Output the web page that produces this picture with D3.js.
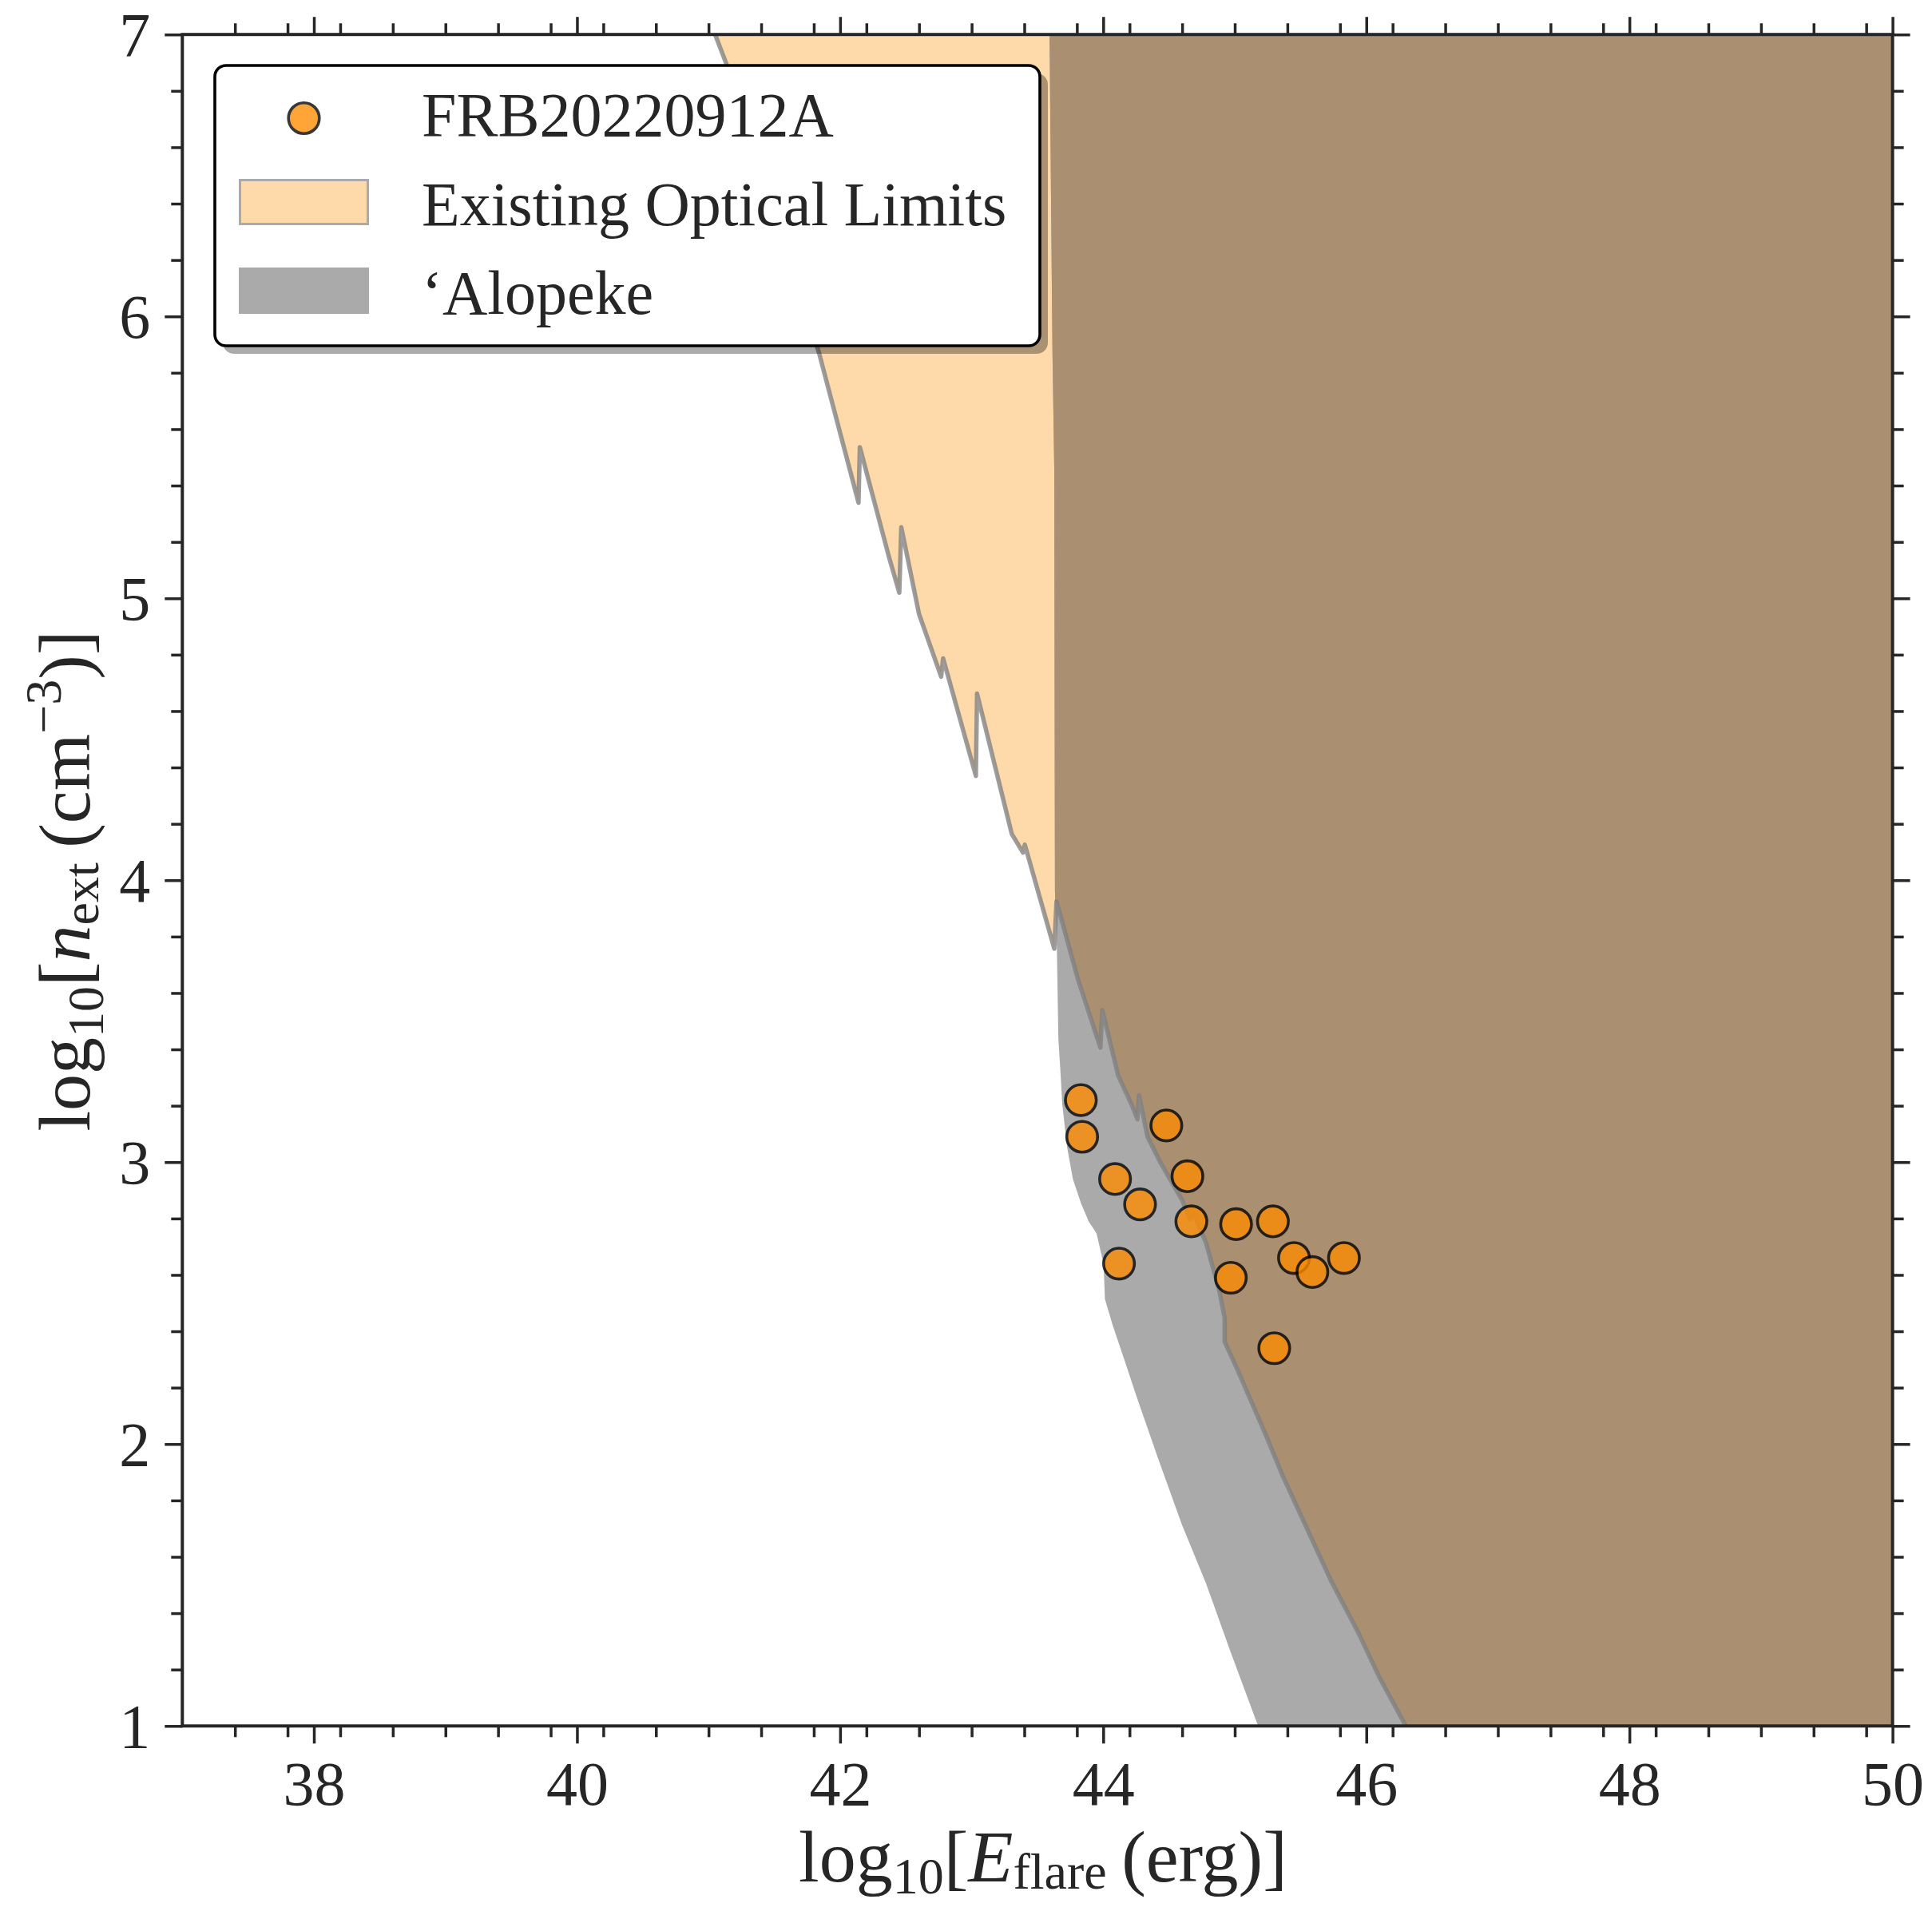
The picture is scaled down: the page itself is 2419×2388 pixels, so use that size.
<!DOCTYPE html>
<html>
<head>
<meta charset="utf-8">
<script src="https://cdn.jsdelivr.net/npm/d3@7"></script>
<style>
  html, body { margin: 0; padding: 0; background: #ffffff; }
  svg { display: block; }
  text { font-family: "Liberation Serif", "DejaVu Serif", serif; fill: #262626; }
</style>
</head>
<body>
<script>
// ---- data -------------------------------------------------------------
// Axis tick labels
const energyTicks = [38, 40, 42, 44, 46, 48, 50];
const densityTicks = [1, 2, 3, 4, 5, 6, 7];

// FRB20220912A bursts: log10 flare energy (erg) and log10 external density (cm^-3)
const frbLogE = [43.83, 43.84, 44.09, 44.28, 44.12, 44.48, 44.64, 44.67, 45.01, 45.29, 44.97, 45.45, 45.59, 45.83, 45.30];
const frbLogN = [3.22, 3.09, 2.94, 2.85, 2.64, 3.13, 2.95, 2.79, 2.78, 2.79, 2.59, 2.66, 2.61, 2.66, 2.34];

// Existing optical limits: excluded region lies to the right of this boundary
const opticalLogE = [41.05, 41.14, 41.84, 42.14, 42.15, 42.37, 42.45, 42.465, 42.60, 42.768, 42.783, 43.032, 43.041,
  43.305, 43.390, 43.404, 43.628, 43.645, 43.811, 43.979, 43.993, 44.114, 44.216, 44.260, 44.272, 44.337, 44.438,
  44.600, 44.661, 44.691, 44.782, 44.883, 44.923, 44.923, 45.025, 45.227, 45.369, 45.733, 45.936, 46.098, 46.300];
const opticalLogN = [7.0, 6.89, 5.87, 5.339, 5.536, 5.149, 5.020, 5.252, 4.944, 4.722, 4.787, 4.370, 4.662,
  4.164, 4.098, 4.126, 3.757, 3.925, 3.644, 3.406, 3.539, 3.307, 3.204, 3.152, 3.237, 3.090, 2.996,
  2.865, 2.797, 2.816, 2.713, 2.543, 2.448, 2.363, 2.259, 2.042, 1.882, 1.514, 1.334, 1.174, 1.0];

// 'Alopeke limits: excluded region lies to the right of this boundary
const alopekeLogE = [43.592, 43.614, 43.628, 43.633, 43.648, 43.659, 43.673, 43.689, 43.726, 43.770, 43.831, 43.891,
  43.932, 43.950, 44.003, 44.013, 44.073, 44.155, 44.256, 44.418, 44.600, 44.782, 44.964, 45.177];
const alopekeLogN = [7.0, 5.883, 5.453, 3.964, 3.751, 3.440, 3.336, 3.204, 3.052, 2.939, 2.854, 2.788,
  2.760, 2.746, 2.638, 2.514, 2.420, 2.307, 2.165, 1.948, 1.712, 1.505, 1.268, 1.0];

const legendLabels = ["FRB20220912A", "Existing Optical Limits", "\u2018Alopeke"];

// ---- layout -----------------------------------------------------------
const W = 2419, H = 2388;
const plot = { left: 228.3, right: 2369.6, top: 43.2, bottom: 2161.3 };
const xDomain = [37, 50], yDomain = [1, 7];

const colors = {
  axis: "#262626",
  optical: "#fed9aa",
  alopeke: "#aaaaaa",
  overlap: "#aa8f71",
  edge: "#808080",
  marker: "#ff8c00"
};

const x = d3.scaleLinear().domain(xDomain).range([plot.left, plot.right]);
const y = d3.scaleLinear().domain(yDomain).range([plot.bottom, plot.top]);

const svg = d3.select("body").append("svg")
  .attr("width", W).attr("height", H)
  .attr("viewBox", `0 0 ${W} ${H}`);

const defs = svg.append("defs");
defs.append("clipPath").attr("id", "plot-clip")
  .append("rect")
  .attr("x", plot.left).attr("y", plot.top)
  .attr("width", plot.right - plot.left).attr("height", plot.bottom - plot.top);

// Region to the right of a boundary curve, closed along the right edge of the axes
const regionPath = (es, ns) => {
  const pts = es.map((e, i) => [e, ns[i]]);
  pts.push([xDomain[1], yDomain[0]], [xDomain[1], yDomain[1]]);
  return d3.line().x(d => x(d[0])).y(d => y(d[1]))(pts) + "Z";
};
const boundaryLine = (es, ns) =>
  d3.line().x(d => x(d[0])).y(d => y(d[1]))(es.map((e, i) => [e, ns[i]]));

const opticalRegion = regionPath(opticalLogE, opticalLogN);
const alopekeRegion = regionPath(alopekeLogE, alopekeLogN);

defs.append("clipPath").attr("id", "optical-clip")
  .append("path").attr("d", opticalRegion);

const fills = svg.append("g").attr("clip-path", "url(#plot-clip)");
fills.append("path").attr("d", opticalRegion).attr("fill", colors.optical);
fills.append("path").attr("d", alopekeRegion).attr("fill", colors.alopeke);
// where both limits apply
fills.append("path").attr("d", alopekeRegion).attr("fill", colors.overlap)
  .attr("clip-path", "url(#optical-clip)");
fills.append("path").attr("d", boundaryLine(opticalLogE, opticalLogN))
  .attr("fill", "none").attr("stroke", colors.edge).attr("stroke-opacity", 0.78)
  .attr("stroke-width", 5.5).attr("stroke-linejoin", "round").attr("stroke-linecap", "round");

// ---- FRB points ---------------------------------------------------------
svg.append("g").selectAll("circle")
  .data(frbLogE.map((e, i) => ({ e, n: frbLogN[i] })))
  .join("circle")
  .attr("cx", d => x(d.e)).attr("cy", d => y(d.n))
  .attr("r", 19.3)
  .attr("fill", colors.marker).attr("stroke", "#000").attr("stroke-width", 3.6)
  .attr("opacity", 0.78);

// ---- axes ---------------------------------------------------------------
const majorLen = 22, minorLen = 14, tickW = 3.5;
const minorX = d3.range(37.4, 50.001, 0.4).map(v => +v.toFixed(2)).filter(v => !energyTicks.includes(Math.round(v * 10) / 10));
const minorY = d3.range(1.2, 7, 0.2).map(v => +v.toFixed(2)).filter(v => Math.abs(v - Math.round(v)) > 1e-6);

function styleAxis(g) {
  g.select(".domain").remove();
  g.selectAll(".tick line").attr("stroke", colors.axis).attr("stroke-width", tickW);
}

const fontTick = 78;

// bottom
const gb = svg.append("g").attr("transform", `translate(0,${plot.bottom})`);
gb.append("g").call(d3.axisBottom(x).tickValues(minorX).tickSize(minorLen).tickFormat("")).call(styleAxis);
gb.append("g").call(d3.axisBottom(x).tickValues(energyTicks).tickSize(majorLen).tickFormat(d3.format("d"))).call(styleAxis)
  .call(g => g.selectAll(".tick text").attr("y", 99).attr("dy", null)
    .attr("font-size", fontTick).attr("fill", colors.axis).style("font-family", null));
// top
const gt = svg.append("g").attr("transform", `translate(0,${plot.top})`);
gt.append("g").call(d3.axisTop(x).tickValues(minorX).tickSize(minorLen).tickFormat("")).call(styleAxis);
gt.append("g").call(d3.axisTop(x).tickValues(energyTicks).tickSize(majorLen).tickFormat("")).call(styleAxis);
// left
const gl = svg.append("g").attr("transform", `translate(${plot.left},0)`);
gl.append("g").call(d3.axisLeft(y).tickValues(minorY).tickSize(minorLen).tickFormat("")).call(styleAxis);
gl.append("g").call(d3.axisLeft(y).tickValues(densityTicks).tickSize(majorLen).tickFormat(d3.format("d"))).call(styleAxis)
  .call(g => g.selectAll(".tick text").attr("x", -40).attr("dy", "0.34em")
    .attr("font-size", fontTick).attr("fill", colors.axis).style("font-family", null));
// right
const gr = svg.append("g").attr("transform", `translate(${plot.right},0)`);
gr.append("g").call(d3.axisRight(y).tickValues(minorY).tickSize(minorLen).tickFormat("")).call(styleAxis);
gr.append("g").call(d3.axisRight(y).tickValues(densityTicks).tickSize(majorLen).tickFormat("")).call(styleAxis);

// frame
svg.append("rect")
  .attr("x", plot.left).attr("y", plot.top)
  .attr("width", plot.right - plot.left).attr("height", plot.bottom - plot.top)
  .attr("fill", "none").attr("stroke", colors.axis).attr("stroke-width", 4);

// ---- axis labels --------------------------------------------------------
const labelSize = 92, subSize = 64;
const xl = svg.append("text")
  .attr("x", 1306).attr("y", 2356)
  .attr("text-anchor", "middle").attr("font-size", labelSize);
xl.append("tspan").text("log");
xl.append("tspan").attr("font-size", subSize).attr("dy", 15).text("10");
xl.append("tspan").attr("dy", -15).text("[");
xl.append("tspan").attr("font-style", "italic").text("E");
xl.append("tspan").attr("font-size", subSize).attr("dy", 9).text("flare");
xl.append("tspan").attr("dy", -9).text("\u2009(erg)]");

const yl = svg.append("text")
  .attr("transform", `translate(112,1103) rotate(-90)`)
  .attr("text-anchor", "middle").attr("font-size", labelSize);
yl.append("tspan").text("log");
yl.append("tspan").attr("font-size", subSize).attr("dy", 17).text("10");
yl.append("tspan").attr("dy", -17).text("[");
yl.append("tspan").attr("font-style", "italic").text("n");
yl.append("tspan").attr("font-size", subSize).attr("dy", 11).text("ext");
yl.append("tspan").attr("dy", -11).text("\u2009(cm");
yl.append("tspan").attr("font-size", subSize).attr("dy", -36).text("\u22123");
yl.append("tspan").attr("dy", 36).text(")]");

// ---- legend -------------------------------------------------------------
const lg = { x: 269, y: 82, w: 1033, h: 351, r: 14 };
const legend = svg.append("g");
legend.append("rect")
  .attr("x", lg.x + 10).attr("y", lg.y + 10).attr("width", lg.w).attr("height", lg.h)
  .attr("rx", lg.r).attr("fill", "#000").attr("fill-opacity", 0.33);
legend.append("rect")
  .attr("x", lg.x).attr("y", lg.y).attr("width", lg.w).attr("height", lg.h)
  .attr("rx", lg.r).attr("fill", "#fff").attr("stroke", "#000").attr("stroke-width", 3.6);

const rowY = [148, 253, 364];
const patchX = 299, patchW = 163, patchH = 58;
legend.append("circle")
  .attr("cx", patchX + patchW / 2).attr("cy", rowY[0]).attr("r", 19.3)
  .attr("fill", colors.marker).attr("stroke", "#000").attr("stroke-width", 3.6).attr("opacity", 0.78);
legend.append("rect")
  .attr("x", patchX + 1.5).attr("y", rowY[1] - patchH / 2 + 1.5)
  .attr("width", patchW - 3).attr("height", patchH - 3)
  .attr("fill", colors.optical).attr("stroke", colors.alopeke).attr("stroke-width", 3);
legend.append("rect")
  .attr("x", patchX).attr("y", rowY[2] - patchH / 2)
  .attr("width", patchW).attr("height", patchH)
  .attr("fill", colors.alopeke);

legend.selectAll("text.entry")
  .data(legendLabels)
  .join("text").attr("class", "entry")
  .attr("x", 528).attr("y", (d, i) => [170, 282, 393][i])
  .attr("font-size", 78)
  .text(d => d);
</script>
</body>
</html>
